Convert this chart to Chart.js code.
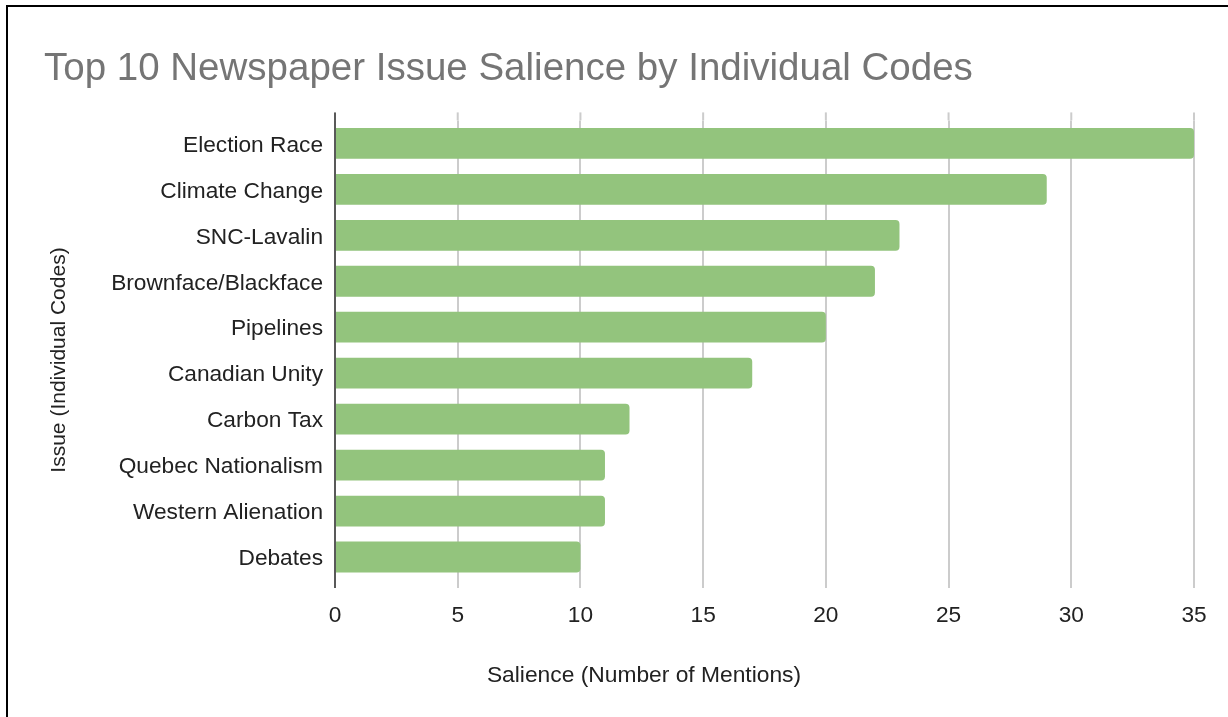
<!DOCTYPE html>
<html>
<head>
<meta charset="utf-8">
<script src="https://cdn.jsdelivr.net/npm/chart.js@4/dist/chart.umd.min.js"></script>
<style>
  html, body { margin: 0; padding: 0; background: #fff; overflow: hidden; }
  #wrap { position: relative; width: 1228px; height: 717px; }
  #frame {
    position: absolute; left: 6px; top: 5px; width: 1400px; height: 900px;
    border-top: 2px solid #000; border-left: 2px solid #000; pointer-events: none;
  }
</style>
</head>
<body>
<div id="wrap">
  <canvas id="issues" width="1228" height="717"></canvas>
  <div id="frame"></div>
</div>
<script>
const categories = [
  'Election Race', 'Climate Change', 'SNC-Lavalin', 'Brownface/Blackface', 'Pipelines',
  'Canadian Unity', 'Carbon Tax', 'Quebec Nationalism', 'Western Alienation', 'Debates'
];
const mentions = [35, 29, 23, 22, 20, 17, 12, 11, 11, 10];
const xMin = 0;
const xMax = 35;
const xStep = 5;
const xTitle = 'Salience (Number of Mentions)';
const yTitle = 'Issue (Individual Codes)';

const FONT = "Arial, 'Liberation Sans', sans-serif";
const labelFont = { family: FONT, size: 22.7 };

// grid lines and the left axis run a little past the category band;
// axis titles are centred on the whole card rather than the plot
const axisExtras = {
  id: 'axisExtras',
  afterDatasetsDraw(chart) {
    const { ctx, chartArea, scales } = chart;
    const ext = 8;
    ctx.save();
    ctx.strokeStyle = '#cccccc';
    ctx.lineWidth = 2;
    scales.x.ticks.forEach(t => {
      const x = scales.x.getPixelForValue(t.value);
      ctx.beginPath();
      ctx.moveTo(x, chartArea.top - ext);
      ctx.lineTo(x, chartArea.top);
      ctx.stroke();
    });
    ctx.strokeStyle = '#333333';
    ctx.lineWidth = 1.5;
    ctx.beginPath();
    ctx.moveTo(chartArea.left, chartArea.top - ext);
    ctx.lineTo(chartArea.left, chartArea.bottom + ext);
    ctx.stroke();

    ctx.fillStyle = '#222';
    ctx.textAlign = 'center';
    ctx.textBaseline = 'middle';
    ctx.font = `22.8px ${FONT}`;
    ctx.fillText(xTitle, 644, 676);
    ctx.font = `21px ${FONT}`;
    ctx.translate(59, 360);
    ctx.rotate(-Math.PI / 2);
    ctx.fillText(yTitle, 0, 0);
    ctx.restore();
  }
};

new Chart(document.getElementById('issues'), {
  type: 'bar',
  data: {
    labels: categories,
    datasets: [{
      label: 'Mentions',
      data: mentions,
      backgroundColor: '#93c47d',
      borderRadius: 4,
      barPercentage: 0.67,
      categoryPercentage: 1
    }]
  },
  options: {
    indexAxis: 'y',
    responsive: false,
    animation: false,
    layout: { padding: { left: 44, right: 34, top: 0, bottom: 0 } },
    plugins: {
      legend: { display: false },
      tooltip: { enabled: false },
      title: {
        display: true,
        text: 'Top 10 Newspaper Issue Salience by Individual Codes',
        align: 'start',
        color: '#757575',
        font: { family: FONT, size: 38.5, weight: 'normal' },
        padding: { top: 46, bottom: 28.2 }
      }
    },
    scales: {
      x: {
        min: xMin,
        max: xMax,
        grid: { color: '#cccccc', lineWidth: 2, drawTicks: true, tickLength: 8 },
        border: { display: false },
        ticks: { stepSize: xStep, color: '#222', font: labelFont, padding: 14 },
        title: { display: false },
        afterFit(scale) { scale.height = 137; }
      },
      y: {
        grid: { display: false, drawTicks: false },
        border: { display: false },
        ticks: { color: '#222', font: labelFont, padding: 12, labelOffset: 2 },
        title: { display: false },
        afterFit(scale) { scale.width = 291; }
      }
    }
  },
  plugins: [axisExtras]
});
</script>
</body>
</html>
